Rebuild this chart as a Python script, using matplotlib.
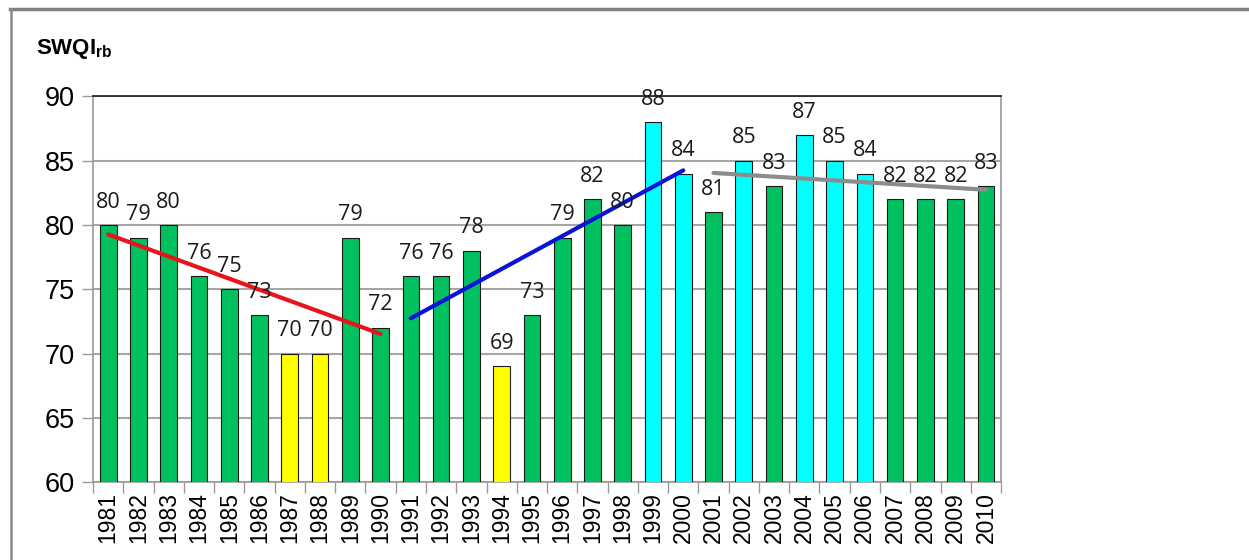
import numpy as np
import matplotlib
matplotlib.use("Agg")
import matplotlib.pyplot as plt
from matplotlib.lines import Line2D

# data
years = list(range(1981, 2011))
swqi = [80, 79, 80, 76, 75, 73, 70, 70, 79, 72,
        76, 76, 78, 69, 73, 79, 82, 80, 88, 84,
        81, 85, 83, 87, 85, 84, 82, 82, 82, 83]
# colour class per bar: g = green, y = yellow, c = cyan
classes = ['g', 'g', 'g', 'g', 'g', 'g', 'y', 'y', 'g', 'g',
           'g', 'g', 'g', 'y', 'g', 'g', 'g', 'g', 'c', 'c',
           'g', 'c', 'g', 'c', 'c', 'c', 'g', 'g', 'g', 'g']
# trend periods (first year, last year)
trend_periods = [(1981, 1990), (1991, 2000), (2001, 2010)]
trend_colors = ['#E8141B', '#0A14D8', '#8C8C8C']

palette = {'g': '#00C060', 'y': '#FFFF00', 'c': '#00FFFF'}


def main():
    plt.rcParams['font.family'] = ['Liberation Sans', 'DejaVu Sans']
    plt.rcParams['mathtext.fontset'] = 'custom'
    plt.rcParams['mathtext.bf'] = 'Liberation Sans:bold'

    fig = plt.figure(figsize=(12.49, 5.6), dpi=100)
    ax = fig.add_axes([0.0745, 0.139, 0.727, 0.6887])

    x = np.arange(len(years))
    colors = [palette[c] for c in classes]
    ax.bar(x, swqi, width=0.55, color=colors, edgecolor='#1a1a1a',
           linewidth=0.8, zorder=3)

    # value labels
    for xi, v in zip(x, swqi):
        ax.annotate(str(v), (xi, v), xytext=(0, 9), textcoords='offset points',
                    ha='center', va='bottom', fontsize=15.5,
                    family=['Open Sans', 'DejaVu Sans'], color='#1a1a1a',
                    zorder=5, annotation_clip=False)

    # linear trends per period
    yr = np.array(years)
    vals = np.array(swqi)
    for (a, b), col in zip(trend_periods, trend_colors):
        m = (yr >= a) & (yr <= b)
        k, q = np.polyfit(x[m], vals[m], 1)
        xs = np.array([x[m][0], x[m][-1]])
        ax.plot(xs, k * xs + q, color=col, lw=3, zorder=4,
                solid_capstyle='round')

    ax.set_xlim(-0.5, len(years) - 0.5)
    ax.set_ylim(60, 90)
    ax.set_yticks(range(60, 91, 5))
    ax.set_xticks(x)
    ax.set_xticklabels([str(y) for y in years], rotation=90, fontsize=16.5)
    ax.tick_params(axis='x', length=0, pad=7)
    ax.set_xticks(np.arange(-0.5, len(years), 1), minor=True)
    ax.tick_params(axis='x', which='minor', length=8, color='#9a9a9a', width=1)
    ax.tick_params(axis='y', length=8, color='#9a9a9a', width=1,
                   labelsize=19.5, pad=5)

    ax.grid(axis='y', color='#a6a6a6', lw=1.5, zorder=0)
    for side in ['left', 'bottom', 'right']:
        ax.spines[side].set_color('#9a9a9a')
        ax.spines[side].set_linewidth(1.2)
    ax.spines['top'].set_color('#1a1a1a')
    ax.spines['top'].set_linewidth(1.2)

    fig.text(0.029, 0.903, r'$\mathbf{SWQI_{rb}}$', fontsize=16, color='black')

    # slide frame
    fig.add_artist(Line2D([10 / 1249, 1], [1 - 9 / 560, 1 - 9 / 560],
                          transform=fig.transFigure, color='#7f7f7f', lw=2.5))
    fig.add_artist(Line2D([11 / 1249, 11 / 1249], [0, 1 - 9 / 560],
                          transform=fig.transFigure, color='#8a8a8a', lw=1.8))

    fig.savefig('out.png', dpi=100)
    plt.close(fig)


if __name__ == "__main__":
    main()
